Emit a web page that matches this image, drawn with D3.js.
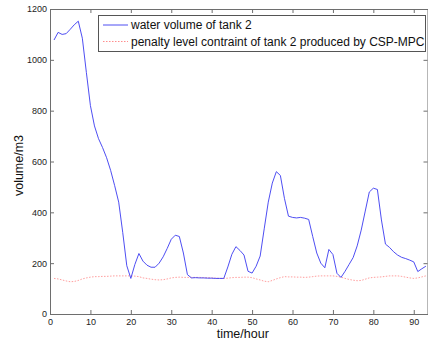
<!DOCTYPE html>
<html>
<head>
<meta charset="utf-8">
<script src="https://cdn.jsdelivr.net/npm/d3@7"></script>
<style>
  body { margin: 0; background: #fff; }
  svg { display: block; font-family: "Liberation Sans", Arial, sans-serif; }
</style>
</head>
<body>
<div id="chart"></div>
<script>
// hours 1..93
const hours = d3.range(1, 94);

const tankVolume = [
  1078, 1108, 1100, 1103, 1120, 1138, 1152, 1085, 950, 820,
  740, 690, 655, 615, 565, 505, 440, 320, 190, 140,
  195, 238, 208, 192, 184, 184, 200, 225, 258, 294,
  310, 305, 240, 155, 142, 143, 142, 142, 141, 141,
  140, 140, 140, 185, 235, 265, 250, 232, 168, 161,
  188, 228, 335, 440, 515, 560, 545, 455, 385, 380,
  378, 380, 377, 372, 305, 240, 200, 182, 254, 234,
  160, 144, 168, 195, 222, 268, 330, 405, 480, 495,
  490, 370, 275, 262, 245, 232, 223, 218, 212, 205,
  167, 178, 188
];

const penaltyLevel = [
  140, 138, 134, 130, 127, 128, 132, 138, 142, 145,
  147, 147, 148, 148, 149, 150, 150, 150, 150, 150,
  149, 147, 142, 140, 137, 135, 134, 135, 138, 142,
  144, 145, 144, 144, 144, 144, 144, 143, 143, 142,
  141, 140, 140, 141, 143, 144, 144, 145, 145, 143,
  138, 134, 129, 127, 132, 138, 143, 147, 146, 146,
  145, 145, 144, 145, 147, 149, 150, 150, 150, 150,
  148, 145, 140, 136, 133, 131, 132, 137, 142, 144,
  145, 146, 148, 150, 150, 150, 148, 145, 142, 140,
  142, 146, 150
];

const xTicks = [0, 10, 20, 30, 40, 50, 60, 70, 80, 90];
const yTicks = [0, 200, 400, 600, 800, 1000, 1200];

const legendLabels = [
  "water volume of tank 2",
  "penalty level contraint of tank 2 produced by CSP-MPC"
];

const width = 428, height = 343;
const plot = { left: 50, right: 427.5, top: 9, bottom: 314 };

const svg = d3.select("#chart").append("svg")
  .attr("width", width)
  .attr("height", height);

const x = d3.scaleLinear().domain([0, 93.4]).range([plot.left, plot.right]);
const y = d3.scaleLinear().domain([0, 1200]).range([plot.bottom, plot.top]);

const axisColor = "#6e6e6e";
const tickLen = 4;
const fmt = d3.format("d");

// bottom axis with labels
svg.append("g")
  .attr("transform", `translate(0,${plot.bottom})`)
  .call(d3.axisBottom(x).tickValues(xTicks).tickFormat(fmt).tickSizeInner(-tickLen).tickSizeOuter(0).tickPadding(5))
  .call(g => g.select(".domain").attr("stroke", axisColor))
  .call(g => g.selectAll(".tick line").attr("stroke", axisColor))
  .call(g => g.selectAll(".tick text").attr("font-size", 9).attr("fill", "#222")
    .attr("font-family", "Liberation Sans, Arial, sans-serif"));

// top axis (ticks only)
svg.append("g")
  .attr("transform", `translate(0,${plot.top})`)
  .call(d3.axisTop(x).tickValues(xTicks).tickSizeInner(-tickLen).tickSizeOuter(0).tickFormat(""))
  .call(g => g.select(".domain").attr("stroke", axisColor))
  .call(g => g.selectAll(".tick line").attr("stroke", axisColor));

// left axis with labels
svg.append("g")
  .attr("transform", `translate(${plot.left},0)`)
  .call(d3.axisLeft(y).tickValues(yTicks).tickFormat(fmt).tickSizeInner(-tickLen).tickSizeOuter(0).tickPadding(3))
  .call(g => g.select(".domain").attr("stroke", axisColor))
  .call(g => g.selectAll(".tick line").attr("stroke", axisColor))
  .call(g => g.selectAll(".tick text").attr("font-size", 9).attr("fill", "#222")
    .attr("font-family", "Liberation Sans, Arial, sans-serif"));

// right axis (ticks only)
svg.append("g")
  .attr("transform", `translate(${plot.right},0)`)
  .call(d3.axisRight(y).tickValues(yTicks).tickSizeInner(-tickLen).tickSizeOuter(0).tickFormat(""))
  .call(g => g.select(".domain").attr("stroke", axisColor))
  .call(g => g.selectAll(".tick line").attr("stroke", axisColor));

// axis labels
svg.append("text")
  .attr("x", (plot.left + plot.right) / 2 + 4)
  .attr("y", 338)
  .attr("text-anchor", "middle")
  .attr("font-size", 12.5)
  .attr("fill", "#111")
  .text("time/hour");

svg.append("text")
  .attr("transform", `translate(23,${(plot.top + plot.bottom) / 2 + 4}) rotate(-90)`)
  .attr("text-anchor", "middle")
  .attr("font-size", 12.5)
  .attr("fill", "#111")
  .text("volume/m3");

// lines
const line = vals => d3.line()
  .x((d, i) => x(hours[i]))
  .y(d => y(d))(vals);

svg.append("path")
  .attr("d", line(penaltyLevel))
  .attr("fill", "none")
  .attr("stroke", "#ff4040")
  .attr("stroke-width", 0.6)
  .attr("stroke-opacity", 0.85)
  .attr("stroke-dasharray", "1.5,1.5");

svg.append("path")
  .attr("d", line(tankVolume))
  .attr("fill", "none")
  .attr("stroke", "#3a3af0")
  .attr("stroke-width", 0.9);

// legend
const legend = svg.append("g");
legend.append("rect")
  .attr("x", 98.5).attr("y", 15.5)
  .attr("width", 327).attr("height", 36)
  .attr("fill", "#fff")
  .attr("stroke", "#555")
  .attr("stroke-width", 1);

const legendStyles = [
  { color: "#3a3af0", width: 0.9, dash: null },
  { color: "#ff4040", width: 0.6, dash: "1.5,1.5" }
];

legendLabels.forEach((label, i) => {
  const ly = 25 + i * 16.5;
  legend.append("line")
    .attr("x1", 103).attr("x2", 128)
    .attr("y1", ly).attr("y2", ly)
    .attr("stroke", legendStyles[i].color)
    .attr("stroke-width", legendStyles[i].width)
    .attr("stroke-dasharray", legendStyles[i].dash);
  legend.append("text")
    .attr("x", 131)
    .attr("y", ly + 4)
    .attr("font-size", 12)
    .attr("fill", "#111")
    .text(label);
});
</script>
</body>
</html>
